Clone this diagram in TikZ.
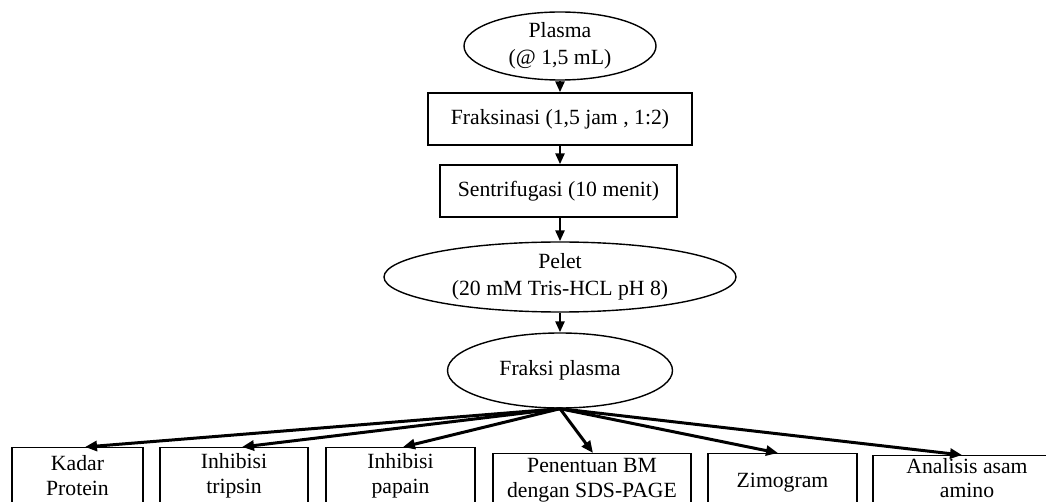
\documentclass[tikz,border=0pt]{standalone}
\usepackage{fontspec}
\setmainfont{Liberation Serif}
\usetikzlibrary{shapes.geometric,arrows.meta}
\begin{document}
\begin{tikzpicture}[x=1pt,y=-1pt,
  every node/.style={font=\fontsize{21.7}{27}\selectfont, align=center},
  oval/.style={draw, ellipse, line width=1.4pt, inner sep=0pt},
  box/.style={draw, rectangle, line width=1.4pt, inner sep=0pt},
  lowbox/.style={box, anchor=north, minimum height=62pt},
  lowtext/.style={font=\fontsize{21.7}{25}\selectfont, inner sep=0pt},
  arr/.style={line width=2.6pt, -{Triangle[length=11pt,width=9pt]}},
  fan/.style={line width=3pt, -{Triangle[length=12pt,width=10pt]}},
  ]
\clip (0,0) rectangle (1046,502);
\node[oval, minimum width=192pt, minimum height=68pt] (plasma) at (560,46) {Plasma\\(@ 1,5 mL)};
\node[box, minimum width=264pt, minimum height=52pt] (frak) at (560,119) {Fraksinasi (1,5 jam , 1:2)};
\node[box, minimum width=237pt, minimum height=52pt] (sent) at (558.5,191) {Sentrifugasi (10 menit)};
\node[oval, minimum width=352pt, minimum height=70pt] (pelet) at (560,277) {Pelet\\(20 mM Tris-HCL pH 8)};
\node[oval, minimum width=225pt, minimum height=75pt] (fp) at (560,370.5) {Fraksi plasma};

\node[lowbox, minimum width=131pt] (b1) at (77.5,447) {};
\node[lowbox, minimum width=148pt] (b2) at (234,447) {};
\node[lowbox, minimum width=149pt] (b3) at (400.5,447) {};
\node[lowbox, minimum width=198pt] (b4) at (592,453) {};
\node[lowbox, minimum width=149pt] (b5) at (782.5,453) {};
\node[lowbox, minimum width=188pt] (b6) at (967,455) {};

\node[lowtext] (t1) at ([yshift=3pt]b1.center) {Kadar\\Protein};
\node[lowtext] (t2) at ([yshift=3pt]b2.center) {Inhibisi\\tripsin};
\node[lowtext] (t3) at ([yshift=3pt]b3.center) {Inhibisi\\papain};
\node[lowtext] (t4) at ([yshift=4pt]b4.center) {Penentuan BM\\dengan SDS-PAGE};
\node[lowtext] (t5) at ([yshift=2pt]b5.center) {Zimogram};
\node[lowtext, font=\fontsize{21.7}{24}\selectfont] (t6) at ([yshift=9pt]b6.center) {Analisis asam\\amino};

\draw[arr] (plasma.south) -- (frak.north);
\draw[arr] (frak.south) -- (frak.south |- sent.north);
\draw[arr] (frak.south |- sent.south) -- (pelet.north);
\draw[arr] (pelet.south) -- (fp.north);

\draw[fan] (fp.south) -- ([xshift=7.5pt]b1.north);
\draw[fan] (fp.south) -- ([xshift=8pt]b2.north);
\draw[fan] (fp.south) -- ([xshift=2.5pt]b3.north);
\draw[fan] (fp.south) -- ([xshift=1pt]b4.north);
\draw[fan] (fp.south) -- ([xshift=-4.5pt]b5.north);
\draw[fan] (fp.south) -- ([xshift=-5pt]b6.north);
\end{tikzpicture}
\end{document}
